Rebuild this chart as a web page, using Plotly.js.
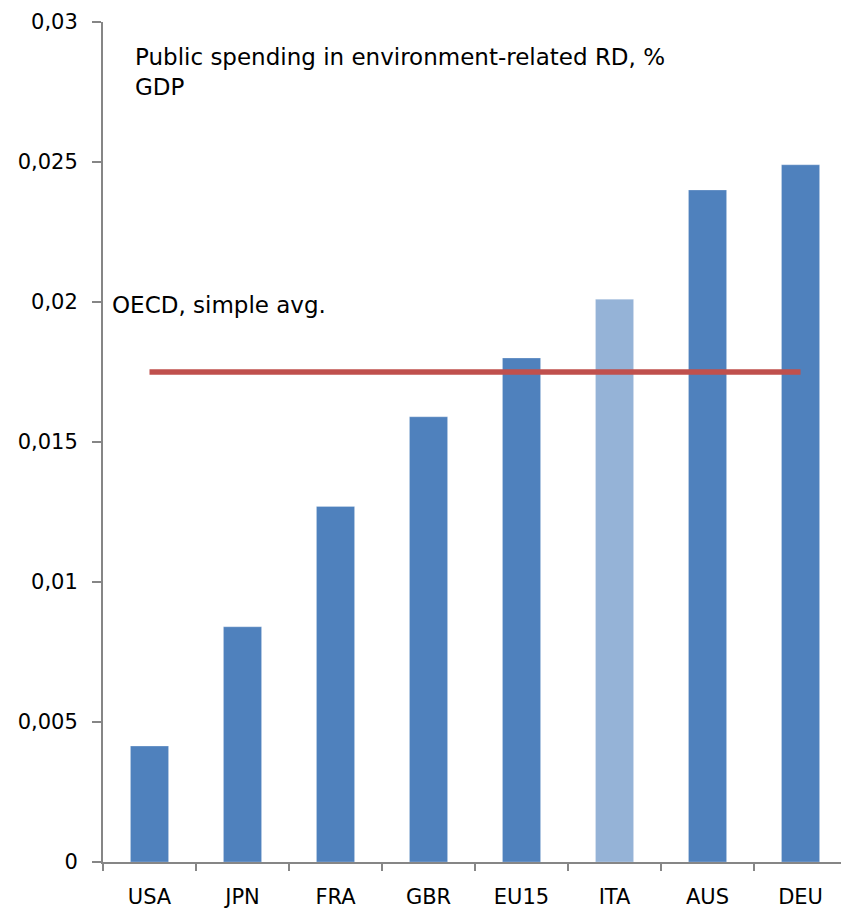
<!DOCTYPE html>
<html>
<head>
<meta charset="utf-8">
<script src="https://cdn.plot.ly/plotly-3.0.1.min.js"></script>
<style>html,body{margin:0;padding:0;background:#fff;}#chart{width:841px;height:909px;}</style>
</head>
<body>
<div id="chart"></div>
<script>
var categories = ['USA', 'JPN', 'FRA', 'GBR', 'EU15', 'ITA', 'AUS', 'DEU'];
var spending = [0.00414, 0.0084, 0.0127, 0.0159, 0.0180, 0.0201, 0.0240, 0.0249];
var barColors = ['#4F81BD', '#4F81BD', '#4F81BD', '#4F81BD', '#4F81BD', '#95B3D7', '#4F81BD', '#4F81BD'];
var avgX = ['USA', 'DEU'];
var oecdAvg = [0.0175, 0.0175];

var fontFam = 'DejaVu Sans, sans-serif';

var traces = [
  {
    type: 'bar',
    x: categories,
    y: spending,
    marker: {color: barColors, line: {color: 'rgba(255,255,255,0.25)', width: 1}},
    hoverinfo: 'x+y'
  },
  {
    type: 'scatter',
    mode: 'lines',
    x: avgX,
    y: oecdAvg,
    line: {color: '#C0504D', width: 5.5},
    hoverinfo: 'y'
  }
];

var layout = {
  width: 841,
  height: 909,
  margin: {l: 103, r: 0, t: 22, b: 47, pad: 0},
  paper_bgcolor: '#ffffff',
  plot_bgcolor: '#ffffff',
  showlegend: false,
  separators: ',.',
  bargap: 0.59,
  font: {family: fontFam, size: 21, color: '#000000'},
  xaxis: {
    type: 'category',
    range: [-0.5, 7.435],
    showgrid: false,
    zeroline: false,
    showline: true,
    linecolor: '#868686',
    linewidth: 2,
    ticks: 'outside',
    tickson: 'boundaries',
    ticklen: 7,
    tickwidth: 2,
    tickcolor: '#868686',
    ticklabelstandoff: 15,
    tickfont: {family: fontFam, size: 21, color: '#000000'}
  },
  yaxis: {
    range: [0, 0.03],
    dtick: 0.005,
    tick0: 0,
    showgrid: false,
    zeroline: false,
    showline: true,
    linecolor: '#868686',
    linewidth: 2,
    ticks: 'outside',
    ticklen: 9,
    tickwidth: 2,
    tickcolor: '#868686',
    ticklabelstandoff: 10,
    tickfont: {family: fontFam, size: 21, color: '#000000'}
  },
  annotations: [
    {
      xref: 'paper', yref: 'paper',
      x: 0.041, y: 0.976,
      xanchor: 'left', yanchor: 'top',
      align: 'left',
      showarrow: false,
      text: 'Public spending in environment-related RD, %<br>GDP',
      font: {family: fontFam, size: 23, color: '#000000'}
    },
    {
      xref: 'paper', yref: 'paper',
      x: 0.009, y: 0.663,
      xanchor: 'left', yanchor: 'middle',
      align: 'left',
      showarrow: false,
      text: 'OECD, simple avg.',
      font: {family: fontFam, size: 23, color: '#000000'}
    }
  ]
};

Plotly.newPlot('chart', traces, layout, {displayModeBar: false, staticPlot: true});
</script>
</body>
</html>
